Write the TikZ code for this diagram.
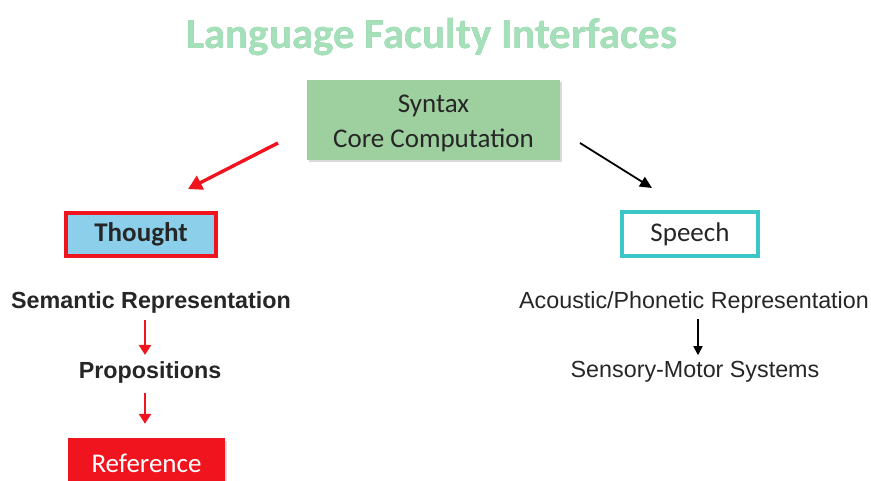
\documentclass[tikz,border=0pt]{standalone}
\usepackage{fontspec}
\setmainfont{Carlito}
\newfontfamily\arialfont{Liberation Sans}
\usepackage[outline]{contour}
\usetikzlibrary{arrows.meta,shadows}
\definecolor{titlefill}{HTML}{A6E0BA}
\definecolor{titleline}{HTML}{6CC489}
\definecolor{syngreen}{HTML}{9DD09E}
\definecolor{thoughtblue}{HTML}{8CCFEA}
\definecolor{boxred}{HTML}{F0141E}
\definecolor{speechteal}{HTML}{3CC6C6}
\definecolor{textgrey}{HTML}{262626}
\contourlength{1.1pt}
\tikzset{
  softshadow/.style={drop shadow={opacity=0.3,shadow xshift=2pt,shadow yshift=-2.5pt}},
  bigbox/.style={rectangle,inner sep=0pt,align=center,softshadow,
    font=\fontsize{27}{35}\selectfont},
  redarrow/.style={draw=boxred,line width=3.4pt,-{Triangle[length=14pt,width=15pt]}},
  smallred/.style={draw=boxred,line width=2.8pt,-{Triangle[length=10pt,width=12pt]}},
  blackarrow/.style={draw=black,line width=1.8pt,-{Triangle[length=12pt,width=11pt]}},
  lbl/.style={inner sep=0pt,anchor=center,font=\arialfont\fontsize{23.3}{28}\selectfont,text=textgrey},
}
\begin{document}
\begin{tikzpicture}[x=1pt,y=-1pt]
\useasboundingbox (0,0) rectangle (871,481);

% title
\node[inner sep=0pt] (title) at (432,37)
  {\fontsize{43}{48}\selectfont\bfseries\contour{titleline}{\textcolor{titlefill}{Language Faculty Interfaces}}};

% syntax box with its two-line caption
\node[bigbox,fill=syngreen,minimum width=253pt,minimum height=80pt] (syn) at (433.5,120) {};
\node[inner sep=0pt,align=center,text=textgrey,font=\fontsize{27}{35}\selectfont] (syntxt)
  at ([yshift=-3.5pt]syn.center) {Syntax\\Core Computation};

% interface boxes
\node[bigbox,fill=thoughtblue,draw=boxred,line width=3.5pt,text=textgrey,
  font=\fontsize{27}{30}\selectfont\bfseries,minimum width=150pt,minimum height=43pt] (th) at (141,234.5)
  {Thought};
\node[bigbox,fill=white,draw=speechteal,line width=3.5pt,text=textgrey,
  minimum width=136pt,minimum height=44pt] (sp) at (690,234)
  {Speech};

% branch arrows
\coordinate (synL) at (278,143);
\coordinate (thT) at (188,189);
\coordinate (synR) at (580,143);
\coordinate (spT) at (652,188);
\draw[redarrow] (synL) -- (thT);
\draw[blackarrow] (synR) -- (spT);

% thought side
\coordinate (axL) at (145,0);
\node[lbl,font=\arialfont\fontsize{23.3}{28}\selectfont\bfseries] (sem) at (151,302)
  {Semantic Representation};
\node[lbl,font=\arialfont\fontsize{23.3}{28}\selectfont\bfseries] (prop) at (150,372)
  {Propositions};
\node[bigbox,fill=boxred,text=white,minimum width=157pt,minimum height=50pt] (ref) at (146.5,463)
  {Reference};
\draw[smallred,shorten <=7pt,shorten >=6pt] (sem.south -| axL) -- (prop.north -| axL);
\draw[smallred,shorten <=10pt,shorten >=14pt] (prop.south -| axL) -- (ref.north -| axL);

% speech side
\coordinate (axR) at (698,0);
\node[lbl] (ac) at (694,302) {Acoustic/Phonetic Representation};
\node[lbl] (sm) at (695,372) {Sensory-Motor Systems};
\draw[blackarrow,line width=1.6pt,-{Triangle[length=9pt,width=9pt]},shorten <=6pt,shorten >=6pt]
  (ac.south -| axR) -- (sm.north -| axR);
\end{tikzpicture}
\end{document}
